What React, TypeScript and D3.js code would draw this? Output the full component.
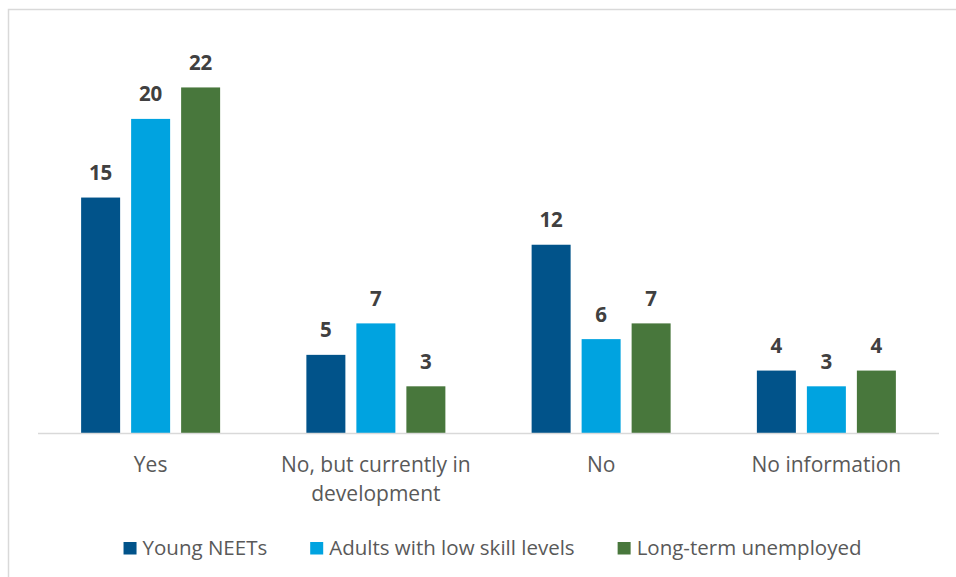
import React, { useEffect, useRef } from "react";
import * as d3 from "d3";

const categories = ["Yes", "No, but currently in development", "No", "No information"];
const categoryLines = [["Yes"], ["No, but currently in", "development"], ["No"], ["No information"]];
const seriesNames = ["Young NEETs", "Adults with low skill levels", "Long-term unemployed"];
const youngNEETs = [15, 5, 12, 4];
const adultsLowSkill = [20, 7, 6, 3];
const longTermUnemployed = [22, 3, 7, 4];
const seriesColors = ["#01538a", "#00a3e0", "#48773c"];

const W = 956;
const H = 577;
const FONT = "'Open Sans', 'Noto Sans', sans-serif";

export default function App() {
  const ref = useRef<SVGSVGElement | null>(null);

  useEffect(() => {
    const svg = d3.select(ref.current);
    svg.selectAll("*").remove();
    const seriesValues = [youngNEETs, adultsLowSkill, longTermUnemployed];

    const baseY = 433.5;
    const x0 = d3.scaleBand<string>().domain(categories).range([38, 939]).paddingInner(0).paddingOuter(0);
    const x1 = d3
      .scaleBand<string>()
      .domain(seriesNames)
      .range([0, x0.bandwidth()])
      .paddingInner(0.22)
      .paddingOuter(0.8625);
    const y = d3.scaleLinear().domain([0, 25]).range([baseY, baseY - 25 * 15.73]);

    // chart border
    svg
      .append("rect")
      .attr("x", 8.5)
      .attr("y", 9.5)
      .attr("width", 1000)
      .attr("height", 1000)
      .attr("fill", "white")
      .attr("stroke", "#d9d9d9")
      .attr("stroke-width", 1.5);

    const groups = svg
      .selectAll("g.cat")
      .data(categories)
      .join("g")
      .attr("class", "cat")
      .attr("transform", (d) => `translate(${x0(d)},0)`);

    seriesNames.forEach((s, si) => {
      groups
        .append("rect")
        .attr("x", x1(s)!)
        .attr("width", x1.bandwidth())
        .attr("y", (_d, i) => y(seriesValues[si][i]))
        .attr("height", (_d, i) => baseY - y(seriesValues[si][i]))
        .attr("fill", seriesColors[si]);
      groups
        .append("text")
        .attr("x", x1(s)! + x1.bandwidth() / 2)
        .attr("y", (_d, i) => y(seriesValues[si][i]) - 17.5)
        .attr("text-anchor", "middle")
        .attr("font-family", FONT)
        .attr("font-weight", "bold")
        .attr("font-size", 20.5)
        .attr("fill", "#404040")
        .text((_d, i) => String(seriesValues[si][i]));
    });

    // axis line
    svg
      .append("line")
      .attr("x1", x0.range()[0])
      .attr("x2", x0.range()[1])
      .attr("y1", baseY)
      .attr("y2", baseY)
      .attr("stroke", "#d9d9d9")
      .attr("stroke-width", 1.5);

    // category labels
    categories.forEach((c, i) => {
      const t = svg
        .append("text")
        .attr("x", x0(c)! + x0.bandwidth() / 2)
        .attr("y", 472)
        .attr("text-anchor", "middle")
        .attr("font-family", FONT)
        .attr("font-size", 21)
        .attr("fill", "#595959");
      categoryLines[i].forEach((line, li) => {
        t.append("tspan")
          .attr("x", x0(c)! + x0.bandwidth() / 2)
          .attr("dy", li === 0 ? 0 : 28.5)
          .text(line);
      });
    });

    // legend
    const legend = svg.append("g");
    let cx = 0;
    const sq = 13;
    const gapText = 6;
    const gapItem = 43;
    seriesNames.forEach((s, si) => {
      const g = legend.append("g").attr("transform", `translate(${cx},0)`);
      g.append("rect")
        .attr("x", 0)
        .attr("y", 542)
        .attr("width", sq)
        .attr("height", 12.5)
        .attr("fill", seriesColors[si]);
      const t = g
        .append("text")
        .attr("x", sq + gapText)
        .attr("y", 554.5)
        .attr("font-family", FONT)
        .attr("font-size", 20.5)
        .attr("fill", "#595959")
        .text(s);
      const w = (t.node() as SVGTextElement).getComputedTextLength();
      cx += sq + gapText + w + gapItem;
    });
    const totalW = cx - gapItem;
    legend.attr("transform", `translate(${492.5 - totalW / 2},0)`);
  }, []);

  return (
    <div style={{ position: "absolute", left: 0, top: 0, width: W, height: H, background: "white" }}>
      <svg ref={ref} width={W} height={H} style={{ display: "block" }} />
    </div>
  );
}
